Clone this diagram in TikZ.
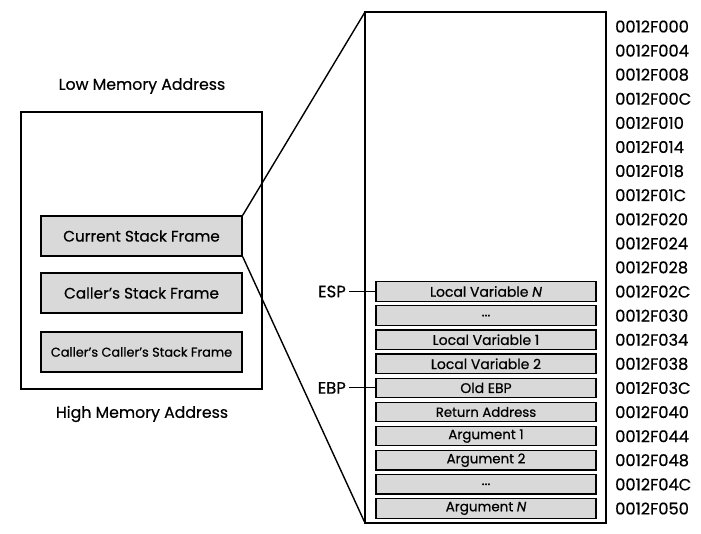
\documentclass[tikz,border=0pt]{standalone}
\usepackage{fontspec}
\setmainfont{Poppins}[FakeBold=0.6]
\begin{document}
\begin{tikzpicture}[x=1bp,y=-1bp,
  frame/.style={draw=black,line width=1.6bp},
  cell/.style={draw=black,fill=black!15,line width=1.2bp,minimum width=220bp,minimum height=19.5bp,inner sep=0pt,font=\fontsize{14}{15}\selectfont},
  sf/.style={draw=black,fill=black!15,line width=1.4bp,minimum width=201bp,minimum height=40bp,inner sep=0pt},
  addr/.style={anchor=west,inner sep=0pt,font=\fontsize{16.3}{18}\selectfont},
  lbl/.style={inner sep=0pt,font=\fontsize{15.8}{17}\selectfont},
  reg/.style={anchor=east,inner sep=0pt,font=\fontsize{16.5}{18}\selectfont},
  zoomline/.style={line width=1.4bp}]
\useasboundingbox (0,0) rectangle (701,534);
% left memory overview
\node[lbl] (low) at (142,86) {Low Memory Address};
\node[lbl] (high) at (142,414) {High Memory Address};
\draw[frame] (21,112) rectangle (262,389);
\node[sf,font=\fontsize{15.3}{17}\selectfont] (cur) at (141.5,236) {Current Stack Frame};
\node[sf,font=\fontsize{15.3}{17}\selectfont] (caller) at (141.5,293) {Caller's Stack Frame};
\node[sf,font=\fontsize{12.9}{14}\selectfont] (ccaller) at (141.5,352) {Caller's Caller's Stack Frame};
% right stack box
\coordinate (bigtl) at (365,12);
\coordinate (bigbl) at (365,523);
\draw[frame] (bigtl) rectangle (606,523);
\draw[zoomline] (cur.north east) -- (bigtl);
\draw[zoomline] (cur.south east) -- (bigbl);
% addresses
\foreach \a [count=\i from 0] in {0012F000,0012F004,0012F008,0012F00C,0012F010,0012F014,0012F018,0012F01C,0012F020,0012F024,0012F028,0012F02C,0012F030,0012F034,0012F038,0012F03C,0012F040,0012F044,0012F048,0012F04C,0012F050}
  \node[addr] (a\i) at (615,26.5+24.1*\i) {\a};
% cells
\node[cell] (c11) at (486,291.5) {Local Variable \textit{N}};
\node[cell] (c12) at (486,291.5+24.1) {...};
\node[cell] (c13) at (486,291.5+24.1*2) {Local Variable 1};
\node[cell] (c14) at (486,291.5+24.1*3) {Local Variable 2};
\node[cell] (c15) at (486,291.5+24.1*4) {Old EBP};
\node[cell,font=\fontsize{13.3}{14}\selectfont] (c16) at (486,291.5+24.1*5) {Return Address};
\node[cell,font=\fontsize{13.5}{14}\selectfont] (c17) at (486,291.5+24.1*6) {Argument 1};
\node[cell,font=\fontsize{13.5}{14}\selectfont] (c18) at (486,291.5+24.1*7) {Argument 2};
\node[cell] (c19) at (486,291.5+24.1*8) {...};
\node[cell,font=\fontsize{13.5}{14}\selectfont] (c20) at (486,291.5+24.1*9) {Argument \textit{N}};
% registers
\node[reg] (esp) at (346,291.5) {ESP};
\node[reg] (ebp) at (346,291.5+24.1*4) {EBP};
\draw[line width=0.9bp] (esp.east) ++(3,0) -- (c11.west);
\draw[line width=0.9bp] (ebp.east) ++(3,0) -- (c15.west);
\end{tikzpicture}
\end{document}
